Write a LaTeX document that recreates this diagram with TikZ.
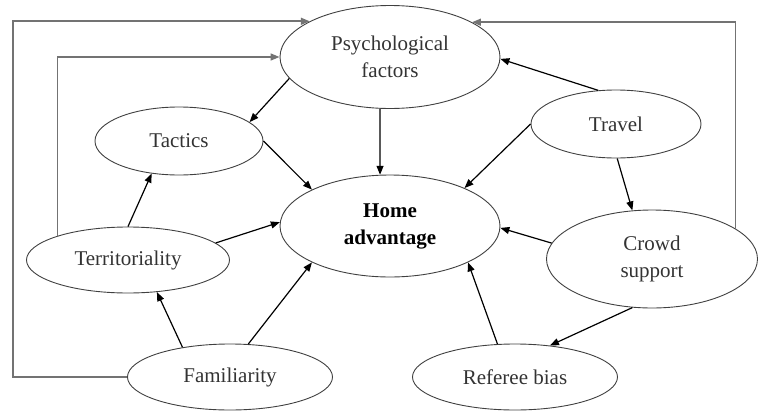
\documentclass[tikz,border=0pt]{standalone}
\usepackage{fontspec}
\setmainfont{Liberation Serif}
\usepackage{tikz}
\usetikzlibrary{shapes.geometric, arrows.meta, positioning}
\usepackage{xcolor}

\begin{document}
\begin{tikzpicture}[
    x=1pt, y=-1pt,
    factor/.style={ellipse, draw=black!75, line width=0.9pt, inner sep=0pt, align=center,
        font=\fontsize{21}{27}\selectfont, text=black!80},
    arrow/.style={-{Triangle[length=9pt, width=7pt]}, line width=1.2pt},
    loop/.style={-{Triangle[length=9pt, width=7pt]}, line width=1.6pt, draw=black!55}
]
    \useasboundingbox (0,0) rectangle (758,410);

    \node[factor, minimum width=220pt, minimum height=103pt] (psych) at (390,57) {Psychological\\factors};
    \node[factor, minimum width=168pt, minimum height=68pt] (tactics) at (179,141) {Tactics};
    \node[factor, minimum width=170pt, minimum height=68pt] (travel) at (616,124) {Travel};
    \node[factor, minimum width=220pt, minimum height=102pt, font=\fontsize{21}{27}\selectfont\bfseries, text=black] (home) at (390,226) {Home\\advantage};
    \node[factor, minimum width=203pt, minimum height=66pt] (terr) at (128,260) {Territoriality};
    \node[factor, minimum width=211pt, minimum height=98pt] (crowd) at (652,259) {Crowd\\support};
    \node[factor, minimum width=205pt, minimum height=66pt] (fam) at (230,377) {Familiarity};
    \node[factor, minimum width=205pt, minimum height=66pt] (referee) at (515,377) {Referee bias};

    \coordinate (outerL) at (13,0);

    \draw[arrow] (psych.192) -- (tactics.15);
    \draw[arrow] (tactics.0) -- (home.155);
    \draw[arrow] (psych.259) -- (home.101);
    \draw[arrow] (travel.118) -- (psych.-1);
    \draw[arrow] (travel.180) -- (home.27);
    \draw[arrow] (travel.272) -- (crowd.112);
    \draw[arrow] (crowd.171) -- (home.-1);
    \draw[arrow] (crowd.248) -- (referee.42);
    \draw[arrow] (referee.118) -- (home.-25);
    \draw[arrow] (terr.90) -- (tactics.230);
    \draw[arrow] (terr.11) -- (home.178);
    \draw[arrow] (fam.148) -- (terr.-48);
    \draw[arrow] (fam.61) -- (home.205);

    \draw[loop] (fam.west) -| (outerL |- psych.156) -- (psych.156);
    \draw[loop] (terr.161) |- (psych.west);
    \draw[loop] (crowd.20) |- (psych.23);
\end{tikzpicture}
\end{document}
